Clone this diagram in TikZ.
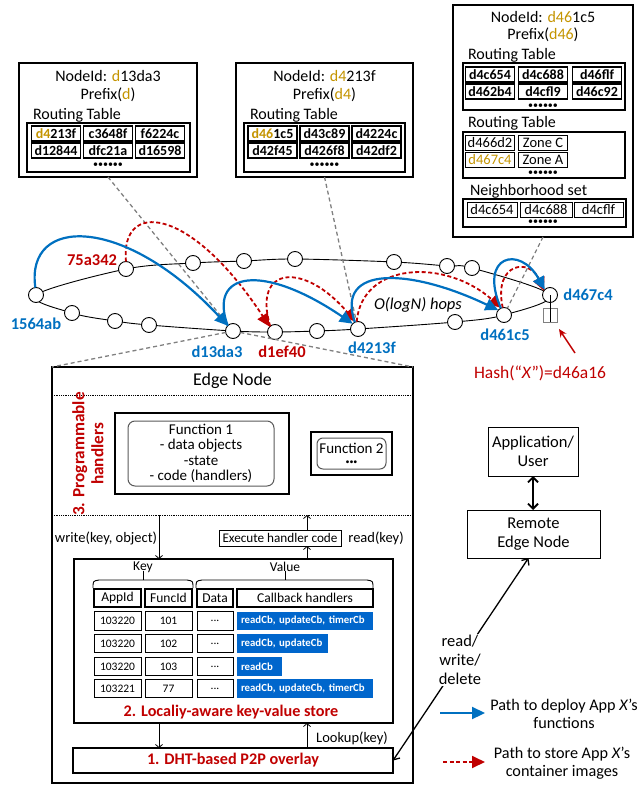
\documentclass[tikz,border=0pt]{standalone}
\usepackage{fontspec}
\setmainfont{Carlito}
\usetikzlibrary{arrows.meta,calc}
\definecolor{gold}{RGB}{196,148,0}
\definecolor{myblue}{RGB}{0,112,192}
\definecolor{cellblue}{RGB}{0,102,204}
\definecolor{myred}{RGB}{192,0,0}
\definecolor{dgray}{RGB}{128,128,128}
\newcommand{\fsz}[2]{\fontsize{#1}{#2}\selectfont}
\newcommand{\gd}[1]{\textcolor{gold}{#1}}
\begin{document}
\begin{tikzpicture}[x=1pt,y=-1pt,
  every node/.style={inner sep=0pt,outer sep=0pt},
  bigbox/.style={draw,line width=1.6pt},
  inbox/.style={draw,line width=1.3pt},
  cellb/.style={draw,line width=1.5pt,minimum width=49pt,minimum height=15pt,font=\bfseries\fsz{14}{14}},
  cellr/.style={draw,line width=0.9pt,minimum width=49pt,minimum height=15pt,font=\fsz{14.5}{14}},
  dotrow/.style={font=\fsz{10}{10}},
  ttl/.style={font=\fsz{16}{16}},
  ringnode/.style={circle,draw,fill=white,line width=0.9pt,minimum size=15pt},
  bluelbl/.style={text=myblue,font=\bfseries\fsz{16.5}{16}},
  redlbl/.style={text=myred,font=\bfseries\fsz{16.5}{16}},
  bluearr/.style={myblue,line width=2.2pt,-{Triangle[length=13pt,width=12pt]}},
  redarr/.style={myred,line width=1.8pt,dash pattern=on 4pt off 2.5pt,-{Triangle[length=13pt,width=12pt]}},
  graydash/.style={dgray,line width=1.3pt,dash pattern=on 4pt off 3pt},
  thinarr/.style={line width=0.8pt,-{Straight Barb[length=3pt,width=7pt]}},
  kvhead/.style={draw,line width=1.4pt,minimum height=18pt,font=\fsz{13.5}{13}},
  kvcell/.style={draw,line width=0.9pt,minimum height=18.5pt,font=\fsz{11.5}{12}},
  cbcell/.style={fill=cellblue,text=white,minimum height=18.5pt,font=\bfseries\fsz{10.8}{11},inner xsep=4pt,anchor=west,align=left,text width=#1},
  txt/.style={font=\fsz{16.5}{19},align=center},
  sepline/.style={densely dotted,line width=0.8pt}
]
\useasboundingbox (0,0) rectangle (640,786);

%------------------ top-left box
\node[bigbox,minimum width=178pt,minimum height=114pt] (boxL) at (108,120) {};
\node[ttl] (tL1) at (108,76) {NodeId: \gd{d}13da3};
\node[ttl] (tL2) at (108,95) {Prefix(\gd{d})};
\node[ttl,anchor=west] (tL3) at (33,115) {Routing Table};
\node[inbox,minimum width=163pt,minimum height=49pt] (tabL) at (108.5,147.5) {};
\node[cellb] (L11) at (56,133.5) {\gd{d4}213f};
\node[cellb] (L12) at (108,133.5) {c3648f};
\node[cellb] (L13) at (160,133.5) {f6224c};
\node[cellb] (L21) at (56,150.5) {d12844};
\node[cellb] (L22) at (108,150.5) {dfc21a};
\node[cellb] (L23) at (160,150.5) {d16598};
\node[dotrow] (Ldots) at (108,165) {••••••};

%------------------ top-middle box
\node[bigbox,minimum width=177pt,minimum height=114pt] (boxM) at (324.5,120) {};
\node[ttl] (tM1) at (324.5,76) {NodeId: \gd{d4}213f};
\node[ttl] (tM2) at (324.5,95) {Prefix(\gd{d4})};
\node[ttl,anchor=west] (tM3) at (250,115) {Routing Table};
\node[inbox,minimum width=161pt,minimum height=49pt] (tabM) at (324.5,147.5) {};
\node[cellb] (M11) at (272.5,133.5) {\gd{d46}1c5};
\node[cellb] (M12) at (324.5,133.5) {d43c89};
\node[cellb] (M13) at (376.5,133.5) {d4224c};
\node[cellb] (M21) at (272.5,150.5) {d42f45};
\node[cellb] (M22) at (324.5,150.5) {d426f8};
\node[cellb] (M23) at (376.5,150.5) {d42df2};
\node[dotrow] (Mdots) at (324.5,165) {••••••};

%------------------ top-right box
\node[bigbox,minimum width=180pt,minimum height=232pt] (boxR) at (543,121) {};
\node[ttl] (tR1) at (543,17) {NodeId: \gd{d46}1c5};
\node[ttl] (tR2) at (543,35) {Prefix(\gd{d46})};
\node[ttl,anchor=west] (tR3) at (468,55) {Routing Table};
\node[inbox,minimum width=162pt,minimum height=47pt] (tabR1) at (544,86.5) {};
\node[cellb] (R11) at (490,74.5) {d4c654};
\node[cellb] (R12) at (543,74.5) {d4c688};
\node[cellb] (R13) at (597,74.5) {d46flf};
\node[cellb] (R21) at (490,91.5) {d462b4};
\node[cellb] (R22) at (543,91.5) {d4cfl9};
\node[cellb] (R23) at (597,91.5) {d46c92};
\node[dotrow] (R1dots) at (543,106) {••••••};
\node[ttl,anchor=west] (tR4) at (468,123) {Routing Table};
\node[inbox,minimum width=162pt,minimum height=46pt] (tabR2) at (544,155) {};
\node[cellr] (Z11) at (490,142.5) {d466d2};
\node[cellr] (Z12) at (543,142.5) {Zone C};
\node[cellr] (Z21) at (490,160) {\gd{d467c4}};
\node[cellr] (Z22) at (543,160) {Zone A};
\node[dotrow] (R2dots) at (543,173) {••••••};
\node[ttl,anchor=west] (tR5) at (470,191) {Neighborhood set};
\node[inbox,minimum width=163pt,minimum height=28pt] (tabR3) at (544.5,213) {};
\node[cellr,minimum width=50pt] (N1) at (492,210) {d4c654};
\node[cellr,minimum width=52pt] (N2) at (546,210) {d4c688};
\node[cellr,minimum width=49pt] (N3) at (598.5,210) {d4cflf};
\node[dotrow] (R3dots) at (543,222.5) {••••••};

%------------------ ring
\coordinate (p1) at (36,295);
\coordinate (p2) at (72,313);
\coordinate (p3) at (115,321);
\coordinate (p4) at (149,325);
\coordinate (p5) at (233,331);
\coordinate (p6) at (275,332);
\coordinate (p7) at (317,331);
\coordinate (p8) at (358,329);
\coordinate (p9) at (455,322);
\coordinate (p10) at (504,315);
\coordinate (p11) at (550,295);
\coordinate (p12) at (472,268);
\coordinate (p13) at (447,266);
\coordinate (p14) at (394,262);
\coordinate (p15) at (295,259);
\coordinate (p16) at (244,261);
\coordinate (p17) at (193,263);
\coordinate (p18) at (126,269);
\draw[line width=0.9pt] plot[smooth cycle,tension=0.55] coordinates {(p1) (p2) (p3) (p4) (p5) (p6) (p7) (p8) (p9) (p10) (p11) (p12) (p13) (p14) (p15) (p16) (p17) (p18)};

\node[ringnode] (r1) at (p1) {};
\node[ringnode] (r2) at (p2) {};
\node[ringnode] (r3) at (p3) {};
\node[ringnode] (r4) at (p4) {};
\node[ringnode] (d13) at (p5) {};
\node[ringnode] (d1e) at (p6) {};
\node[ringnode] (r7) at (p7) {};
\node[ringnode] (d42) at (p8) {};
\node[ringnode] (r9) at (p9) {};
\node[ringnode] (d461) at (p10) {};
\node[ringnode] (d467) at (p11) {};
\node[ringnode] (u1) at (p12) {};
\node[ringnode] (u2) at (p13) {};
\node[ringnode] (u3) at (p14) {};
\node[ringnode] (u4) at (p15) {};
\node[ringnode] (u5) at (p16) {};
\node[ringnode] (u6) at (p17) {};
\node[ringnode] (r75) at (p18) {};

% Edge node box (needed for dashed zoom lines)
\node[draw,line width=1.2pt,minimum width=361pt,minimum height=416pt] (edge) at (232.5,575) {};

\draw[graydash] (boxL.south) -- (d13);
\draw[graydash] (boxM.south) -- (d42);
\draw[graydash] (boxR.south) -- (d461);
\draw[graydash] (d13) -- (edge.north west);
\draw[graydash] (d13) -- (edge.north east);

% small square for Hash(X)
\node[draw=dgray,line width=1pt,minimum size=14pt] (sq) at (550,315) {};
\draw[line width=0.9pt] (d467.center) -- (sq.south);

% ring labels
\node[bluelbl] (l1564) at (36,324) {1564ab};
\node[redlbl] (l75) at (92,260) {75a342};
\node[bluelbl] (l13) at (217,352) {d13da3};
\node[redlbl] (l1e) at (282,352) {d1ef40};
\node[bluelbl] (l42) at (372,348) {d4213f};
\node[bluelbl] (l461) at (505,335) {d461c5};
\node[bluelbl] (l467) at (588,295) {d467c4};
\node[font=\itshape\fsz{16.5}{16}] (hops) at (418,305) {O(logN) hops};

% red dashed arrows
\draw[redarr] (r75.90) .. controls (120,200) and (190,205) .. (d1e.135);
\draw[redarr] (d1e.130) .. controls (252,265) and (305,262) .. (d42.110);
\draw[redarr] (d42.100) .. controls (362,262) and (445,258) .. (d461.110);
\draw[redarr] (d461.100) .. controls (493,262) and (530,258) .. (d467.145);

% blue arrows
\draw[bluearr] (r1.95) .. controls (25,215) and (125,215) .. (d13.135);
\draw[bluearr] (d13.135) .. controls (208,272) and (262,262) .. (d42.135);
\draw[bluearr] (d42.115) .. controls (335,265) and (410,268) .. (d461.140);
\draw[bluearr] (d461.115) .. controls (478,255) and (520,245) .. (d467.135);

% Hash label
\node[text=myred,font=\fsz{17.5}{16}] (hash) at (540,373) {Hash(“\textit{X}”)=d46a16};
\coordinate (hasht) at (575,353);
\coordinate (hashh) at (559,329);
\draw[myred,line width=1.5pt,-{Stealth[length=8pt,width=7pt]}] (hasht) -- (hashh);

%------------------ Edge node interior
\node[font=\fsz{18}{16}] (edgeT) at (232.5,381) {Edge Node};
\draw[sepline] (52,395) -- (413,395);
\draw[sepline] (52,515) -- (413,515);
\node[rotate=90,align=center,text=myred,font=\bfseries\fsz{17.2}{19}] (prog) at (88,454) {3. Programmable\\handlers};

\node[draw,line width=1.6pt,minimum width=174pt,minimum height=81pt] (f1out) at (202,453.5) {};
\node[draw=black!65,line width=1pt,rounded corners=7pt,minimum width=146pt,minimum height=65pt,align=center,font=\fsz{15}{15.5}] (f1) at (201,453.5) {Function 1\\- data objects\\-state\\- code (handlers)};
\node[draw,line width=1.6pt,minimum width=81pt,minimum height=43pt] (f2out) at (351.5,453.5) {};
\node[draw=black!65,line width=1pt,rounded corners=6pt,minimum width=69pt,minimum height=31pt] (f2) at (351.5,453.5) {};
\node[font=\fsz{15}{15}] (f2t) at (351.5,448) {Function 2};
\node[font=\fsz{8}{8}] (f2d) at (351.5,463) {•••};

\node[font=\fsz{14.5}{14}] (wlbl) at (106,538) {write(key, object)};
\node[draw,line width=0.9pt,minimum width=122pt,minimum height=16pt,font=\fsz{13.2}{13}] (exec) at (280,538) {Execute handler code};
\node[font=\fsz{14.5}{14}] (rlbl) at (376,538) {read(key)};

% KV store
\node[draw,line width=1.6pt,minimum width=319pt,minimum height=164pt] (kv) at (233.5,641) {};
\coordinate (wtop) at (159,515);
\draw[thinarr] (wtop) -- (wtop |- kv.north);
\draw[thinarr] ([xshift=27pt]exec.south |- kv.north) -- ([xshift=27pt]exec.south);
\draw[thinarr] ([xshift=27pt]exec.north) -- ++(0,-15);

\node[font=\fsz{13.5}{13}] (keyl) at (143,567) {Key};
\node[font=\fsz{13.5}{13}] (vall) at (285,567) {Value};
\draw[line width=0.9pt] (93,588) .. controls (93,581) .. (99,580) -- (187,580) .. controls (193,581) .. (193,588);
\draw[line width=0.9pt] (143,580) -- (143,571);
\draw[line width=0.9pt] (196,588) .. controls (196,581) .. (202,580) -- (367,580) .. controls (373,581) .. (373,588);
\draw[line width=0.9pt] (285,580) -- (285,571);

\node[kvhead,minimum width=47pt] (hA) at (117.5,598) {AppId};
\node[kvhead,minimum width=47pt] (hF) at (168.5,598) {FuncId};
\node[kvhead,minimum width=36pt] (hD) at (215,598) {Data};
\node[kvhead,minimum width=136pt] (hC) at (305,598) {Callback handlers};

\node[kvcell,minimum width=47pt] (a1) at (117.5,621) {103220};
\node[kvcell,minimum width=47pt] (b1) at (168.5,621) {101};
\node[kvcell,minimum width=36pt] (c1) at (215,621) {...};
\node[cbcell=128pt] (e1) at (237,621) {readCb, updateCb, timerCb};
\node[kvcell,minimum width=47pt] (a2) at (117.5,643.5) {103220};
\node[kvcell,minimum width=47pt] (b2) at (168.5,643.5) {102};
\node[kvcell,minimum width=36pt] (c2) at (215,643.5) {...};
\node[cbcell=83pt] (e2) at (237,643.5) {readCb, updateCb};
\node[kvcell,minimum width=47pt] (a3) at (117.5,666.5) {103220};
\node[kvcell,minimum width=47pt] (b3) at (168.5,666.5) {103};
\node[kvcell,minimum width=36pt] (c3) at (215,666.5) {...};
\node[cbcell=37pt] (e3) at (237,666.5) {readCb};
\node[kvcell,minimum width=47pt] (a4) at (117.5,688.5) {103221};
\node[kvcell,minimum width=47pt] (b4) at (168.5,688.5) {77};
\node[kvcell,minimum width=36pt] (c4) at (215,688.5) {...};
\node[cbcell=128pt] (e4) at (237,688.5) {readCb, updateCb, timerCb};

\node[text=myred,font=\bfseries\fsz{16.2}{15}] (kvl) at (231,712) {2. Localiy-aware key-value store};

% DHT
\node[draw,line width=1.6pt,minimum width=320pt,minimum height=25pt,text=myred,font=\bfseries\fsz{16.2}{15}] (dht) at (233,760.5) {1. DHT-based P2P overlay};
\draw[thinarr] (kv.south -| wtop) -- (dht.north -| wtop);
\draw[thinarr] ([xshift=27pt]exec.south |- dht.north) -- ([xshift=27pt]exec.south |- kv.south);
\node[font=\fsz{14.5}{14}] (lkl) at (352,738) {Lookup(key)};

%------------------ right side
\node[draw,line width=0.9pt,minimum width=90pt,minimum height=49pt,txt] (app) at (533,451.5) {Application/\\User};
\node[draw,line width=0.9pt,minimum width=133pt,minimum height=48pt,txt] (remote) at (533.5,534) {Remote\\Edge Node};
\draw[line width=1.8pt,{Straight Barb[length=5pt,width=10pt]}-{Straight Barb[length=5pt,width=10pt]}] (app.south) -- (remote.north -| app.south);
\draw[line width=1.3pt,{Straight Barb[length=5pt,width=9pt]}-{Straight Barb[length=5pt,width=9pt]}] (dht.east) -- ([xshift=-5pt]remote.south);
\node[txt,fill=white,inner sep=1pt] (rwd) at (460,660) {read/\\write/\\delete};

% legend
\coordinate (lb1) at (440,713);
\coordinate (lb2) at (485,713);
\draw[bluearr] (lb1) -- (lb2);
\node[font=\fsz{16.2}{18},align=center] (lbt) at (564,714) {Path to deploy App \textit{X}’s\\functions};
\coordinate (lr1) at (443,762);
\coordinate (lr2) at (485,762);
\draw[redarr] (lr1) -- (lr2);
\node[font=\fsz{16.2}{18},align=center] (lrt) at (562,763) {Path to store App \textit{X}’s\\container images};
\end{tikzpicture}
\end{document}
